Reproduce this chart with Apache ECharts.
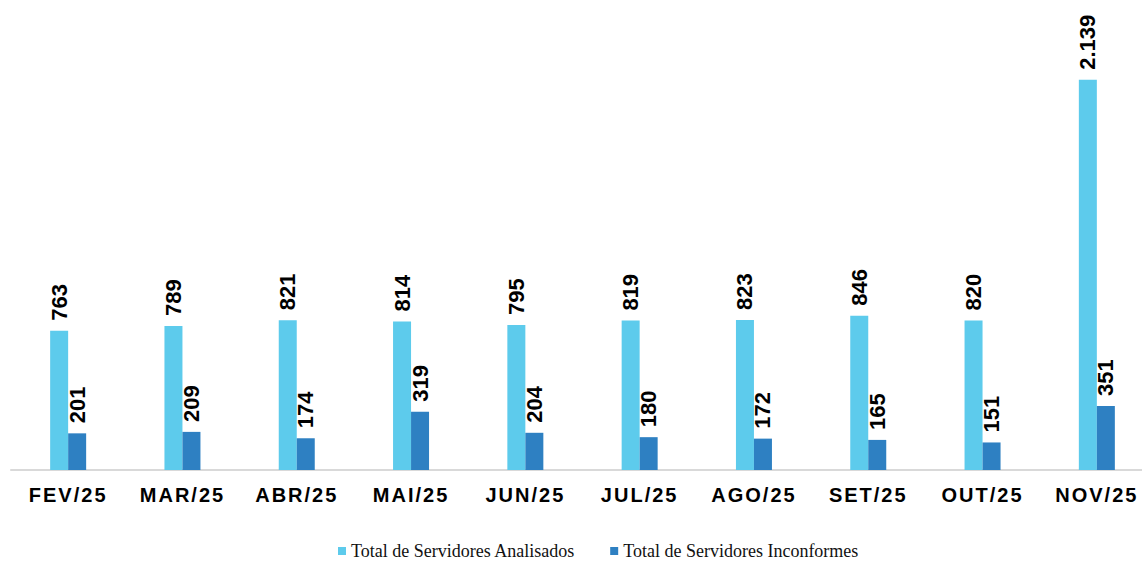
<!DOCTYPE html>
<html>
<head>
<meta charset="utf-8">
<script src="https://cdn.jsdelivr.net/npm/echarts@6/dist/echarts.min.js"></script>
<style>
html,body{margin:0;padding:0;background:#fff;}
#c{width:1142px;height:561px;}
</style>
</head>
<body>
<div id="c"></div>
<script>
const categories = ['FEV/25','MAR/25','ABR/25','MAI/25','JUN/25','JUL/25','AGO/25','SET/25','OUT/25','NOV/25'];
const analisados = [763, 789, 821, 814, 795, 819, 823, 846, 820, 2139];
const inconformes = [201, 209, 174, 319, 204, 180, 172, 165, 151, 351];
const seriesNames = ['Total de Servidores Analisados', 'Total de Servidores Inconformes'];

function fmt(v){
  return String(v).replace(/\B(?=(\d{3})+(?!\d))/g, '.');
}
const labelCfg = {
  show: true, position: 'top', rotate: 90, align: 'left', verticalAlign: 'middle',
  distance: 10, fontFamily: 'Liberation Sans, Arial, sans-serif', fontWeight: 'bold',
  fontSize: 22, color: '#000', formatter: p => fmt(p.value)
};
const chart = echarts.init(document.getElementById('c'), null, {renderer: 'svg'});
chart.setOption({
  animation: false,
  grid: {left: 11, width: 1143, top: 14, height: 456, containLabel: false, outerBoundsMode: 'none'},
  legend: {
    top: 542, left: 338, itemWidth: 8, itemHeight: 8, itemGap: 35,
    icon: 'rect', padding: 0,
    textStyle: {fontFamily: 'Liberation Serif, Times New Roman, serif', fontSize: 18, lineHeight: 18, color: '#111'},
    data: seriesNames
  },
  xAxis: {
    type: 'category', data: categories,
    axisLine: {lineStyle: {color: '#D9D9D9', width: 2}},
    axisTick: {show: false},
    axisLabel: {fontFamily: 'Liberation Sans, Arial, sans-serif', fontWeight: 'bold', fontSize: 20, color: '#000', margin: 15}
  },
  yAxis: {type: 'value', min: 0, max: 2500, show: false, splitLine: {show: false}},
  series: [
    {name: seriesNames[0], type: 'bar', data: analisados, barWidth: 18, barGap: '0%', itemStyle: {color: '#5DCBEC'}, label: labelCfg},
    {name: seriesNames[1], type: 'bar', data: inconformes, barWidth: 18, barGap: '0%', itemStyle: {color: '#2E80C2'}, label: labelCfg}
  ]
});
function spaceLabels(){
  document.querySelectorAll('#c text').forEach(t => {
    if (categories.includes(t.textContent.trim())) {
      t.setAttribute('letter-spacing', '2px');
      t.style.letterSpacing = '2px';
    }
  });
}
spaceLabels();
chart.on('finished', spaceLabels);
</script>
</body>
</html>
